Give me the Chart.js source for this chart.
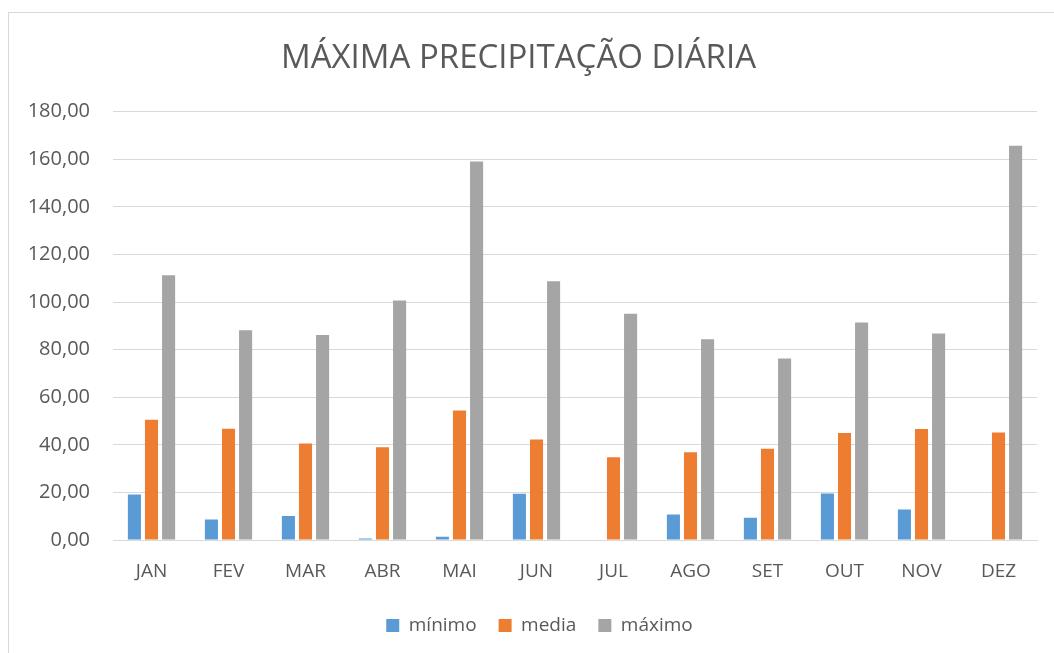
<!DOCTYPE html>
<html><head><meta charset="utf-8">
<script src="https://cdn.jsdelivr.net/npm/chart.js@4"></script>
<style>
html,body{margin:0;padding:0;background:#fff;}
#wrap{position:relative;width:1054px;height:653px;overflow:hidden;}
#frame{position:absolute;left:8px;top:12px;width:1100px;height:700px;border:1px solid #d9d9d9;box-sizing:border-box;}
canvas{position:absolute;left:0;top:0;}
</style></head><body>
<div id="wrap"><div id="frame"></div><canvas id="c" width="1054" height="653"></canvas></div>
<script>
const categories = ["JAN","FEV","MAR","ABR","MAI","JUN","JUL","AGO","SET","OUT","NOV","DEZ"];
const minimo = [19.1, 8.6, 10.1, 0.6, 1.4, 19.4, 0, 10.7, 9.4, 19.5, 12.8, 0];
const media  = [50.5, 46.7, 40.5, 39.0, 54.4, 42.2, 34.8, 36.9, 38.3, 45.0, 46.6, 45.2];
const maximo = [111.2, 88.1, 86.1, 100.6, 159.0, 108.7, 95.1, 84.3, 76.3, 91.4, 86.8, 165.6];
const seriesNames = ["mínimo","media","máximo"];
const FONT = "'Open Sans', 'Liberation Sans', sans-serif";
const TXT = "#595959";
const shiftLegend = {
  id: 'shiftLegend',
  afterLayout(chart) {
    const lg = chart.legend;
    if (lg) { lg.left += 21; lg.right += 21; }
  }
};
new Chart(document.getElementById('c'), {
  type: 'bar',
  data: {
    labels: categories,
    datasets: [
      {label: seriesNames[0], data: minimo, backgroundColor: '#5b9bd5'},
      {label: seriesNames[1], data: media, backgroundColor: '#ed7d31'},
      {label: seriesNames[2], data: maximo, backgroundColor: '#a5a5a5'}
    ]
  },
  plugins: [shiftLegend],
  options: {
    responsive: false, animation: false,
    categoryPercentage: 0.666, barPercentage: 0.765,
    layout: {padding: {left: 0, right: 17, top: 39, bottom: 8}},
    plugins: {
      title: {display: true, text: 'MÁXIMA PRECIPITAÇÃO DIÁRIA', color: TXT,
        font: {family: FONT, size: 33, weight: '400'}, padding: {top: 0, bottom: 33}},
      legend: {position: 'bottom', labels: {color: TXT, font: {family: FONT, size: 19},
        boxWidth: 13, boxHeight: 13, padding: 22}},
      tooltip: {enabled: false}
    },
    scales: {
      x: {grid: {display: false}, border: {color: '#d9d9d9'},
        afterFit: s => { s.height = 54; },
        ticks: {color: TXT, font: {family: FONT, size: 19}, padding: 12}},
      y: {min: 0, max: 180, grid: {color: '#d9d9d9', drawTicks: false}, border: {display: false},
        afterFit: s => { s.width = 113; },
        ticks: {stepSize: 20, color: TXT, font: {family: FONT, size: 20}, padding: 23,
          callback: v => v.toFixed(2).replace('.', ',')}}
    }
  }
});
</script></body></html>
